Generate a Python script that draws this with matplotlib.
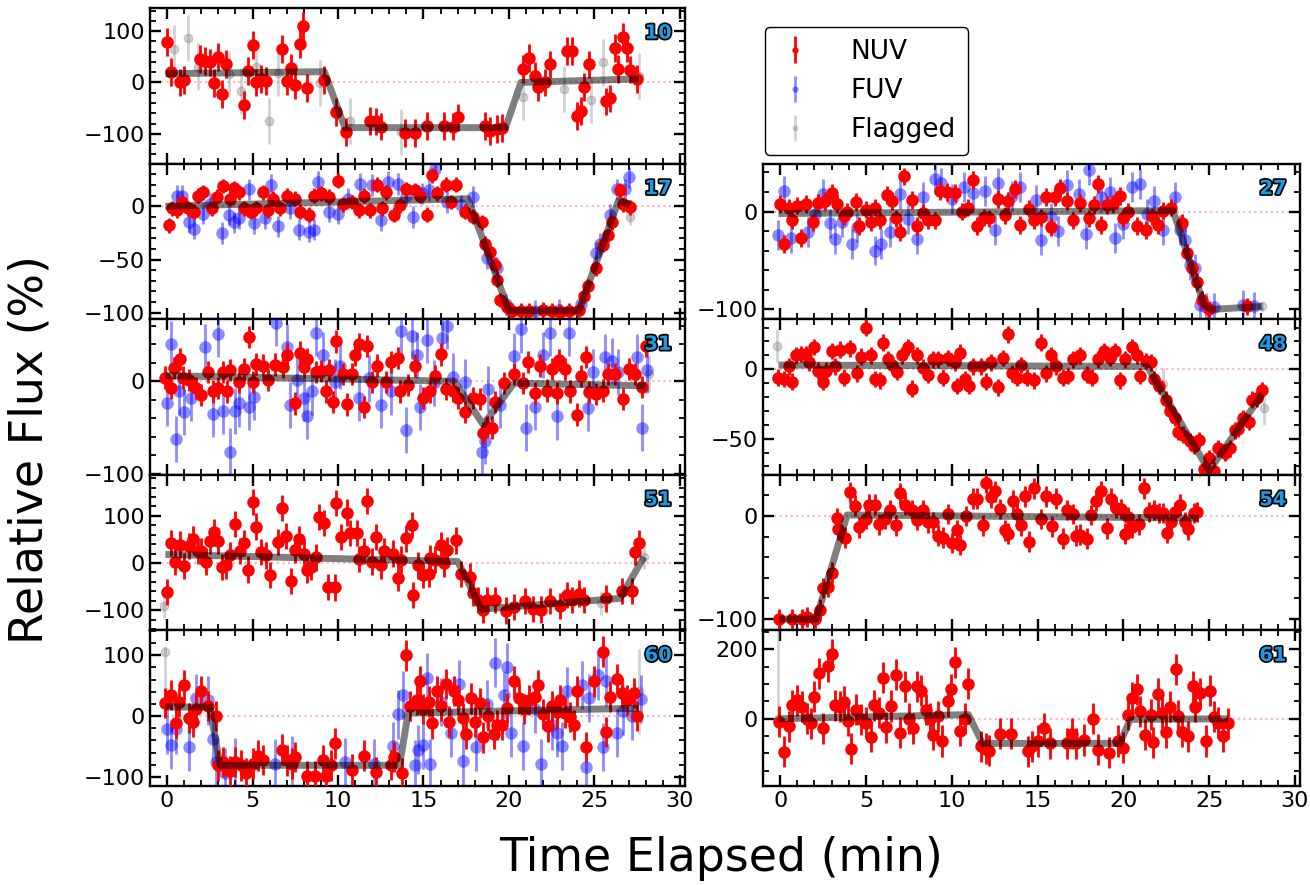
import numpy as np
import matplotlib
matplotlib.use("Agg")
import matplotlib.pyplot as plt
import matplotlib.patheffects as pe
from matplotlib.ticker import MultipleLocator, AutoMinorLocator

# ---- data: (time [min], relative flux [%]) ----
# panel 10
nuv_10 = [(0.0, 79), (0.25, 20), (0.74, 0), (1.0, 5), (1.94, 46), (2.2, 42), (2.5, 39), (2.74, -1),
          (3.0, 49), (3.24, -23), (3.47, 36), (4.5, -44), (4.74, 23), (5.0, 73), (5.2, 0), (5.5, 7),
          (5.8, 3), (6.74, 65), (7.0, 3), (7.27, 28), (7.47, -5), (7.75, 75), (7.96, 110), (8.2, -11),
          (9.2, 5), (9.9, -58), (10.46, -96), (11.9, -75), (12.2, -76), (12.5, -86), (13.9, -98),
          (14.5, -99), (15.2, -85), (16.2, -85), (16.7, -86), (17.0, -68), (18.6, -85), (18.9, -94),
          (19.3, -90), (19.6, -88), (20.8, 26), (21.2, 48), (21.5, 13), (21.7, -9), (22.1, 0),
          (22.4, 35), (23.4, 61), (23.7, 61), (24.0, -65), (24.2, -55), (24.4, -9), (24.7, 35),
          (25.7, -37), (25.9, -31), (26.2, 67), (26.4, 26), (26.7, 89), (26.9, 67), (27.1, 25), (27.5, 7)]
fuv_10 = []
flag_10 = [(0.42, 66), (1.2, 86), (1.8, 31), (3.64, 17), (4.3, -16), (5.2, 31), (5.94, -75), (6.5, 18),
           (8.95, -1), (10.7, -75), (13.7, -96), (20.8, -29), (23.2, -13), (24.8, -34), (25.5, 39), (27.6, 12)]
model_10 = [(-0.1, 17), (9.2, 21), (10.4, -88), (19.8, -88), (20.7, 0), (27.6, 7)]

# panel 17
nuv_17 = [(0.1, -18), (0.3, -2), (0.6, -4), (0.9, 4), (1.2, -2), (1.6, -5), (1.8, 10), (2.1, 13),
          (2.6, -2), (2.9, 9), (3.3, 19), (3.7, 7), (3.9, 17), (4.2, 13), (4.5, -2), (4.9, -5),
          (5.2, -2), (5.6, 13), (5.9, -4), (6.2, 7), (6.6, -2), (7.0, 10), (7.5, 7), (7.8, -5),
          (8.3, -8), (8.6, 10), (9.0, 12), (9.5, 9), (10.0, 24), (10.3, 2), (10.8, 4), (11.2, -4),
          (11.5, 10), (11.9, -4), (12.3, 20), (12.6, -2), (12.8, 13), (13.3, -8), (13.6, 1),
          (14.0, 16), (14.5, 15), (14.8, 10), (15.2, -8), (15.5, 29), (15.8, 12), (16.3, 20),
          (16.6, 4), (16.9, 20), (17.4, -5), (17.9, -10), (18.4, -15), (18.6, -35), (18.9, -43),
          (19.2, -55), (19.3, -69), (19.5, -88), (19.9, -95), (20.2, -98), (20.7, -98), (21.2, -98),
          (22.0, -97), (22.5, -98), (23.0, -99), (23.5, -98), (24.1, -97), (24.4, -84), (24.6, -75),
          (25.1, -58), (25.5, -36), (25.8, -27), (26.0, -15), (26.5, 15), (26.7, 2), (27.1, -1)]
fuv_17 = [(0.6, 10), (0.9, 10), (1.3, -15), (1.6, -21), (2.1, -7), (2.5, 2), (3.2, -25), (3.6, -8),
          (3.9, -15), (4.2, -11), (4.8, 16), (5.1, -16), (5.7, -11), (6.1, 20), (6.5, -19), (7.2, -2),
          (7.7, -22), (8.3, -24), (8.6, -22), (8.8, 23), (9.5, -5), (10.0, -7), (10.6, 7), (11.3, 21),
          (12.0, 20), (12.5, -13), (12.9, 23), (13.5, 21), (14.0, 10), (14.4, -10), (14.9, 12),
          (15.3, 15), (15.7, 35), (16.4, 4), (17.2, 1), (17.9, 9), (18.7, -49), (19.3, -58),
          (19.8, -92), (21.5, -98), (22.9, -97), (24.2, -92), (25.1, -44), (25.3, -35), (25.9, -8),
          (26.3, 16), (26.8, 16), (27.0, 27)]
flag_17 = [(27.1, -10)]
model_17 = [(-0.1, 0), (17.6, 7), (20.0, -98), (24.1, -98), (26.4, 5), (27.1, 2)]

# panel 31
nuv_31 = [(-0.1, 4), (0.2, -7), (0.4, 14), (0.74, 24), (0.95, 4), (1.27, 1), (1.7, -7), (2.0, -15),
          (2.4, 10), (2.7, -11), (3.0, -7), (3.3, 10), (3.5, -11), (3.7, 12), (4.2, -1), (4.5, 13),
          (4.8, 48), (5.0, -1), (5.2, 19), (5.6, 17), (5.9, 1), (6.3, 18), (6.8, 15), (7.0, 28),
          (7.5, -24), (7.8, 31), (8.0, 15), (8.2, 24), (8.7, 10), (9.0, 11), (9.3, -11), (9.5, 12),
          (9.7, -22), (9.9, 43), (10.3, 8), (10.5, -25), (10.8, 8), (11.0, 28), (11.2, 40),
          (11.5, -28), (11.7, 38), (12.0, -1), (12.3, 17), (12.8, -1), (13.1, 21), (13.5, 25),
          (13.6, -11), (14.1, -4), (14.5, 17), (15.0, -18), (15.4, -11), (15.7, 6), (16.0, 29),
          (16.3, -8), (16.7, -10), (17.0, -18), (17.4, -33), (17.9, -18), (18.3, -19), (18.5, -56),
          (18.7, -49), (19.0, -50), (19.2, -22), (19.7, -2), (20.3, 8), (20.8, -2), (21.1, 21),
          (21.5, -13), (21.8, 17), (22.2, -10), (22.5, 13), (22.8, -13), (22.9, 23), (23.3, 13),
          (23.6, -11), (24.0, -36), (24.2, 6), (24.5, 26), (24.7, -12), (25.1, -14), (25.5, -10),
          (25.8, 8), (26.2, 8), (26.7, -19), (27.0, 13), (27.4, 8), (27.8, -6), (28.0, 38)]
fuv_31 = [(0.0, -23), (0.2, 40), (0.5, -62), (0.7, -11), (1.0, -33), (1.4, -18), (2.2, 37), (2.7, -35),
          (3.0, 51), (3.3, -32), (3.7, -76), (4.0, -32), (4.2, -24), (4.8, -28), (5.1, -17), (6.4, 63),
          (7.0, 37), (7.2, -26), (7.6, 1), (8.0, -18), (8.2, -37), (8.5, -11), (8.7, 52), (9.1, 28),
          (9.8, -1), (10.1, 17), (11.2, -18), (11.8, 3), (12.5, -26), (13.1, -11), (13.7, 54),
          (14.0, -53), (14.3, 49), (14.6, 28), (14.8, -28), (15.2, 45), (15.6, -2), (16.1, 47),
          (16.4, 60), (16.7, 5), (17.4, -1), (18.4, -76), (18.6, -64), (18.8, -8), (19.5, -26),
          (20.3, 27), (20.7, 56), (21.0, -50), (21.5, -28), (22.0, 28), (22.4, 52), (22.8, -38),
          (23.5, 52), (24.6, -29), (24.9, 10), (25.6, 26), (26.0, 22), (26.4, 10), (27.5, 26),
          (27.8, -50), (28.1, 12)]
flag_31 = [(28.2, 8)]
model_31 = [(-0.1, 6), (16.8, 0), (18.5, -47), (20.3, -2), (28.0, -5)]

# panel 51
nuv_51 = [(0.0, -61), (0.25, 42), (0.46, 3), (0.74, 39), (1.0, -7), (1.3, 36), (1.5, 51), (1.8, 26),
          (2.0, 26), (2.25, 3), (2.5, 46), (2.74, 65), (3.0, 46), (3.2, -8), (3.47, -5), (3.7, 16),
          (3.96, 83), (4.25, 26), (4.5, 42), (4.74, -14), (5.0, 129), (5.2, 77), (5.5, 23), (5.8, 16),
          (6.0, -26), (6.5, 44), (6.74, 117), (6.95, 57), (7.26, -38), (7.5, 27), (7.7, 51), (8.0, 20),
          (8.2, -14), (8.4, -8), (8.7, 12), (8.9, 98), (9.2, 85), (9.4, -51), (9.8, -52), (9.9, 127),
          (10.2, 55), (10.5, 107), (10.7, 64), (11.1, 64), (11.2, 8), (11.5, 26), (11.7, 132),
          (11.96, 3), (12.2, 55), (12.5, -5), (12.7, 25), (13.2, 20), (13.5, -31), (13.7, 7),
          (14.0, 52), (14.3, 81), (14.4, -68), (14.7, -5), (14.95, -26), (15.3, -23), (15.4, 10),
          (15.7, 7), (16.0, 38), (16.2, -1), (16.4, 27), (16.9, 48), (17.2, -23), (17.7, -29),
          (17.9, -64), (18.2, -78), (18.5, -99), (18.7, -79), (19.2, -78), (19.8, -101), (20.3, -94),
          (20.95, -81), (21.4, -98), (21.9, -99), (22.4, -81), (23.0, -91), (23.4, -68), (23.7, -79),
          (24.1, -65), (24.4, -79), (25.7, -75), (26.6, -60), (27.2, -60), (27.4, 23), (27.6, 42)]
fuv_51 = []
flag_51 = [(-0.2, -91), (25.4, -85), (27.9, 13)]
model_51 = [(-0.1, 18), (17.0, 3), (18.4, -98), (26.5, -75), (27.9, 13)]

# panel 60
nuv_60 = [(-0.1, 22), (0.2, 35), (0.5, -12), (0.7, 23), (1.0, 51), (1.3, -3), (1.5, -9), (1.7, 12),
          (2.0, 41), (2.4, 17), (2.85, 0), (3.0, -81), (3.3, -76), (3.7, -90), (4.0, -76), (4.3, -81),
          (4.6, -94), (5.0, -78), (5.3, -65), (5.6, -72), (6.75, -55), (7.0, -73), (7.3, -78),
          (7.5, -67), (8.2, -99), (8.65, -99), (9.1, -73), (9.3, -99), (9.6, -81), (9.8, -45),
          (10.8, -88), (11.5, -65), (12.2, -92), (13.1, -80), (13.25, -67), (13.75, -94), (13.97, 100),
          (14.2, 17), (14.6, 26), (14.8, 57), (15.0, 12), (15.3, 24), (15.5, -12), (15.8, 41),
          (16.0, 17), (16.3, 53), (16.5, -9), (16.8, 41), (17.0, 26), (17.3, -3), (17.5, -29),
          (17.8, 29), (18.0, -9), (18.3, 22), (18.5, -35), (18.8, 0), (19.1, -29), (19.3, -15),
          (19.6, -15), (19.9, 13), (20.3, 57), (20.6, 29), (20.9, 12), (21.2, 26), (21.5, 32),
          (21.7, 51), (22.0, 3), (22.3, -17), (22.5, 17), (22.8, 6), (23.0, 26), (23.3, 5), (23.6, -1),
          (23.8, -15), (24.0, 41), (24.5, -51), (25.0, 57), (25.5, 106), (25.7, -26), (25.9, 32),
          (26.3, 61), (26.6, 38), (26.9, 26), (27.3, 38), (27.5, 0)]
fuv_60 = [(0.0, -22), (0.2, -47), (0.5, -22), (1.3, -51), (1.7, 29), (2.4, 26), (2.7, -38), (2.85, -76),
          (3.4, -93), (4.0, -76), (6.3, -78), (7.3, -73), (10.4, -76), (12.1, -78), (13.2, -49),
          (13.5, 3), (13.8, 35), (14.5, -80), (14.7, -55), (15.0, -47), (15.2, 63), (15.4, -78),
          (16.0, 23), (16.6, -28), (17.1, 52), (17.3, -74), (18.1, -51), (18.7, 20), (19.2, 88),
          (19.7, 35), (19.9, 81), (20.1, -28), (20.8, -49), (21.5, 12), (21.9, -78), (22.5, -15),
          (22.8, -28), (23.1, -49), (23.4, 41), (24.3, 51), (24.5, -83), (24.7, 30), (25.2, 67),
          (25.5, -51), (25.7, 57), (26.3, -28), (26.7, 9), (27.2, 0), (27.7, 28)]
flag_60 = [(-0.15, 105), (27.6, 41)]
model_60 = [(-0.1, 15), (2.5, 15), (3.1, -81), (13.6, -81), (14.1, 5), (27.6, 13)]

# panel 27
nuv_27 = [(0.0, 8), (0.2, -33), (0.5, 4), (0.7, -9), (1.0, 6), (1.2, -27), (1.5, 8), (1.9, -11),
          (2.2, 9), (2.6, 11), (3.0, 19), (3.3, 8), (3.7, -5), (3.9, 0), (4.4, 10), (4.6, -15),
          (4.99, 2), (5.3, -11), (5.5, 4), (5.8, -9), (6.2, 17), (6.5, 11), (6.75, -7), (7.0, -21),
          (7.2, 36), (7.7, 12), (7.97, -15), (8.3, -1), (8.6, -9), (9.0, -9), (9.3, 21), (9.7, 20),
          (10.2, 19), (10.6, 0), (10.97, 4), (11.25, 32), (11.5, -15), (11.9, -6), (12.2, -7),
          (12.7, 13), (13.1, -4), (13.3, 11), (13.7, 23), (14.0, -14), (14.5, 3), (14.8, -9),
          (15.2, -6), (15.5, 15), (15.8, -16), (16.0, 15), (16.3, 24), (16.7, 11), (17.05, -9),
          (17.5, 9), (18.0, -7), (18.3, 7), (18.5, 28), (18.7, -14), (19.05, 7), (19.4, 8), (19.8, 16),
          (20.0, -7), (20.3, 0), (20.8, -15), (21.3, -19), (21.7, -5), (22.0, -14), (22.3, 1),
          (22.8, 4), (23.4, -12), (23.7, -42), (24.0, -58), (24.3, -72), (24.6, -90), (25.0, -100),
          (27.2, -97)]
fuv_27 = [(-0.1, -24), (0.2, 21), (0.65, -27), (1.6, -21), (2.05, -2), (2.5, 18), (2.9, -12), (3.2, -28),
          (3.6, -11), (4.2, -33), (4.5, -16), (5.5, -40), (5.9, -33), (6.4, -21), (7.0, 18), (7.45, -8),
          (8.0, -28), (8.3, 15), (9.0, 33), (9.4, 29), (10.0, 13), (10.7, 25), (11.25, 19), (11.95, 21),
          (12.5, -19), (12.7, 29), (13.5, 16), (14.0, 25), (14.9, 12), (15.2, -29), (15.8, -6),
          (16.2, -20), (16.7, 27), (17.4, 18), (17.8, -23), (18.0, 42), (18.7, 15), (19.2, 20),
          (19.5, -27), (20.0, -13), (20.5, 25), (21.0, 28), (21.4, -2), (21.8, 11), (22.3, -19),
          (23.0, 15), (23.3, -19), (23.6, -29), (23.9, -55), (24.2, -58), (24.5, -96), (24.8, -98),
          (25.3, -98), (27.0, -95), (27.6, -97)]
flag_27 = [(28.1, -97)]
model_27 = [(-0.1, -2), (22.9, 1), (24.7, -95), (25.1, -100), (28.1, -97)]

# panel 48
nuv_48 = [(-0.1, -6), (0.2, -7), (0.5, 2), (0.7, -9), (0.95, 10), (1.2, 11), (1.5, 11), (1.7, 5),
          (2.0, 16), (2.2, -1), (2.5, -9), (2.65, -1), (3.0, 13), (3.2, 2), (3.5, 14), (3.75, -6),
          (4.05, 15), (4.45, -3), (4.7, 9), (5.0, 30), (5.3, 10), (5.5, -7), (5.8, -8), (6.0, 19),
          (6.3, 7), (6.5, 3), (6.8, -2), (7.1, 10), (7.45, 16), (7.7, -14), (8.0, 10), (8.3, 1),
          (8.6, -4), (8.9, 7), (9.2, 7), (9.5, -6), (9.8, 8), (10.2, 5), (10.3, -12), (10.5, 12),
          (10.8, -7), (11.0, -12), (11.25, 2), (11.7, 2), (12.0, -9), (12.3, 5), (12.7, -13), (13.0, 8),
          (13.3, 25), (13.5, -3), (13.8, -6), (14.05, 3), (14.4, -6), (14.8, -8), (15.2, 19), (15.5, -3),
          (15.8, 10), (16.1, 2), (16.5, -6), (16.8, -5), (17.05, 7), (17.5, 10), (17.9, -4), (18.2, -6),
          (18.5, 7), (18.9, 13), (19.2, 8), (19.5, 13), (19.8, -8), (20.1, 7), (20.5, 16), (20.8, 10),
          (21.0, -5), (21.3, 6), (21.6, 5), (21.8, -7), (22.1, -12), (22.5, -22), (22.7, -30),
          (23.0, -35), (23.2, -45), (23.5, -47), (23.9, -52), (24.1, -55), (24.4, -51), (24.7, -72),
          (25.0, -64), (25.3, -73), (25.5, -57), (25.95, -60), (26.2, -57), (26.5, -44), (26.7, -43),
          (27.0, -35), (27.3, -38), (27.5, -22), (27.8, -21), (28.1, -15)]
fuv_48 = []
flag_48 = [(-0.2, 17), (22.3, -11), (28.2, -28)]
model_48 = [(-0.1, 3), (21.4, 2), (25.0, -73), (28.1, -18)]

# panel 54
nuv_54 = [(-0.05, -100), (0.7, -100), (1.25, -100), (1.55, -98), (2.05, -100), (2.3, -91), (2.5, -70),
          (2.8, -69), (3.0, -55), (3.3, -2), (3.4, -13), (3.8, -21), (4.05, 23), (4.35, 10), (4.6, -11),
          (4.99, -3), (5.2, 11), (5.5, 11), (5.75, -8), (6.1, -3), (6.4, 6), (6.75, -9), (7.0, 22),
          (7.3, 11), (7.7, 6), (7.96, -4), (8.3, 6), (8.6, -6), (8.9, -6), (9.2, -19), (9.5, -21),
          (9.8, 2), (10.0, -26), (10.3, -14), (10.5, -28), (10.85, 0), (11.25, 17), (11.5, 17),
          (11.8, -9), (12.0, 32), (12.3, 18), (12.5, 24), (12.8, 7), (13.1, -14), (13.3, -17),
          (13.55, 15), (13.8, 2), (14.05, -9), (14.3, 19), (14.5, -25), (14.8, 27), (15.2, -3),
          (15.5, 19), (15.85, -10), (16.1, 17), (16.5, -22), (16.7, 6), (17.05, 2), (17.25, -19),
          (17.5, -18), (17.9, -22), (18.1, 1), (18.4, 15), (18.7, 24), (19.05, -12), (19.3, 17),
          (19.6, 8), (19.85, 7), (20.1, -17), (20.3, -1), (20.5, -11), (20.9, -8), (21.2, 27),
          (21.5, 4), (21.8, 6), (22.1, 3), (22.3, 3), (22.55, -16), (22.8, -6), (23.0, 4), (23.3, 11),
          (23.6, -6), (23.8, -13), (24.1, 3), (24.3, 4)]
fuv_54 = []
flag_54 = [(24.45, 52)]
model_54 = [(-0.05, -100), (2.1, -100), (3.9, 1), (24.4, -2)]

# panel 61
nuv_61 = [(-0.05, -9), (0.25, -95), (0.5, -22), (0.7, 39), (1.0, 53), (1.25, 35), (1.55, 0), (1.8, -13),
          (2.0, 64), (2.25, 131), (2.5, -28), (2.8, 152), (3.0, 186), (3.2, 39), (3.5, 35), (3.7, 49),
          (3.97, -6), (4.15, -86), (4.4, 26), (4.7, -2), (4.99, -11), (5.3, -52), (5.45, 39), (5.75, 17),
          (6.0, 119), (6.15, -25), (6.45, 37), (6.75, 127), (7.0, -40), (7.3, 94), (7.5, 0), (7.75, -28),
          (8.0, 94), (8.2, 81), (8.5, 26), (8.75, 0), (8.9, -46), (9.2, 7), (9.45, -64), (9.8, 51),
          (9.98, 85), (10.2, 163), (10.5, -34), (10.75, 0), (10.97, 101), (11.7, -80), (12.0, -86),
          (12.2, -92), (12.8, -43), (13.45, -43), (14.45, -94), (14.7, -80), (15.05, -64), (15.4, -28),
          (15.7, -71), (16.7, -71), (17.0, -43), (17.25, -71), (17.7, -61), (18.25, 0), (18.5, -89),
          (19.15, -98), (19.7, -64), (20.0, -84), (20.25, 12), (20.5, 61), (20.8, 85), (21.0, 21),
          (21.25, -46), (21.6, 12), (21.75, -68), (22.05, 72), (22.25, 18), (22.5, -39), (22.7, 35),
          (23.05, 143), (23.2, 9), (23.45, -37), (23.75, -50), (24.05, 94), (24.2, 35), (24.5, 73),
          (24.8, -64), (25.05, 81), (25.3, 6), (25.5, -11), (25.8, -50), (26.1, -13)]
fuv_61 = []
flag_61 = [(-0.1, 0)]
model_61 = [(-0.1, 0), (10.97, 12), (11.8, -71), (19.8, -71), (20.4, -2), (26.1, 0)]

# typical error bar half-lengths per panel (NUV, FUV, flagged)
err_10 = (27, 0, 45)
err_17 = (7, 10, 8)
err_31 = (12, 25, 20)
err_51 = (28, 0, 25)
err_60 = (25, 40, 0)
err_27 = (9, 15, 5)
err_48 = (6, 0, 12)
err_54 = (10, 0, 14)
err_61 = (45, 0, 0)

ylims = {'10': (-158, 145), '17': (-106, 40), '31': (-101, 67), '51': (-143, 187), '60': (-115, 141),
         '27': (-110, 49), '48': (-76, 36), '54': (-111, 40), '61': (-194, 255)}
ymajor = {'10': 100, '17': 50, '31': 100, '51': 100, '60': 100, '27': 100, '48': 50, '54': 100, '61': 200}

panels = [
    ('10', 0, 0, nuv_10, fuv_10, flag_10, model_10, err_10),
    ('17', 0, 1, nuv_17, fuv_17, flag_17, model_17, err_17),
    ('31', 0, 2, nuv_31, fuv_31, flag_31, model_31, err_31),
    ('51', 0, 3, nuv_51, fuv_51, flag_51, model_51, err_51),
    ('60', 0, 4, nuv_60, fuv_60, flag_60, model_60, err_60),
    ('27', 1, 1, nuv_27, fuv_27, flag_27, model_27, err_27),
    ('48', 1, 2, nuv_48, fuv_48, flag_48, model_48, err_48),
    ('54', 1, 3, nuv_54, fuv_54, flag_54, model_54, err_54),
    ('61', 1, 4, nuv_61, fuv_61, flag_61, model_61, err_61),
]

W, H = 1310, 885
fig = plt.figure(figsize=(W / 100, H / 100), dpi=100)

col_x = [(150, 685), (763, 1300)]
top, bot = 8, 786
rowh = (bot - top) / 5

handles = {}
for name, col, row, nuv, fuv, flag, model, err in panels:
    x0, x1 = col_x[col]
    y_top = top + row * rowh
    ax = fig.add_axes([x0 / W, 1 - (y_top + rowh) / H, (x1 - x0) / W, rowh / H])

    ax.axhline(0, color='red', alpha=0.3, ls=':', lw=1.5, zorder=1)

    if flag:
        a = np.array(flag, float)
        if name == '60':
            yerr = [[100, 70], [10, 70]]
        elif name == '61':
            yerr = [[0], [300]]
        else:
            yerr = err[2]
        h = ax.errorbar(a[:, 0], a[:, 1], yerr=yerr, fmt='o', color='gray', alpha=0.35,
                        ms=6, elinewidth=2, capsize=0, zorder=2)
        handles.setdefault('Flagged', h)
    if fuv:
        a = np.array(fuv, float)
        h = ax.errorbar(a[:, 0], a[:, 1], yerr=err[1], fmt='o', color='blue', alpha=0.45,
                        ms=9, elinewidth=2, capsize=0, mec='none', zorder=3)
        handles.setdefault('FUV', h)
    a = np.array(nuv, float)
    h = ax.errorbar(a[:, 0], a[:, 1], yerr=err[0], fmt='o', color='red',
                    ms=9, elinewidth=2, capsize=0, mec='none', zorder=4)
    handles.setdefault('NUV', h)

    m = np.array(model, float)
    ax.plot(m[:, 0], m[:, 1], color='black', alpha=0.5, lw=5, zorder=5, solid_capstyle='butt')

    ax.set_xlim(-1.0, 30.3)
    ax.set_ylim(*ylims[name])
    ax.xaxis.set_major_locator(MultipleLocator(5))
    ax.xaxis.set_minor_locator(AutoMinorLocator(5))
    ax.yaxis.set_major_locator(MultipleLocator(ymajor[name]))
    ax.yaxis.set_minor_locator(AutoMinorLocator())
    ax.tick_params(which='both', direction='in', top=True, right=True, labelsize=16)
    ax.tick_params(which='major', length=8, width=1.7)
    ax.tick_params(which='minor', length=4, width=1.3)
    for s in ax.spines.values():
        s.set_linewidth(1.7)
    if row != 4:
        ax.tick_params(labelbottom=False)

    ax.text(0.975, 0.9, name, transform=ax.transAxes, ha='right', va='top',
            fontsize=14, fontweight='bold', color='#1a9be6',
            path_effects=[pe.withStroke(linewidth=2.5, foreground='black')], zorder=10)

order = ['NUV', 'FUV', 'Flagged']
fig.legend([handles[k] for k in order], order, loc='upper left',
           bbox_to_anchor=(765 / W, 1 - 27 / H), borderaxespad=0, fontsize=19, markerscale=0.5,
           handlelength=1.4, handletextpad=1.4, labelspacing=0.5, borderpad=0.45,
           frameon=True, edgecolor='black', framealpha=1, fancybox=True)

fig.text(0.023, 0.492, 'Relative Flux (%)', rotation=90, ha='center', va='center', fontsize=33)
fig.text(0.55, 0.03, 'Time Elapsed (min)', ha='center', va='center', fontsize=33)

fig.savefig('out.png', dpi=100)
